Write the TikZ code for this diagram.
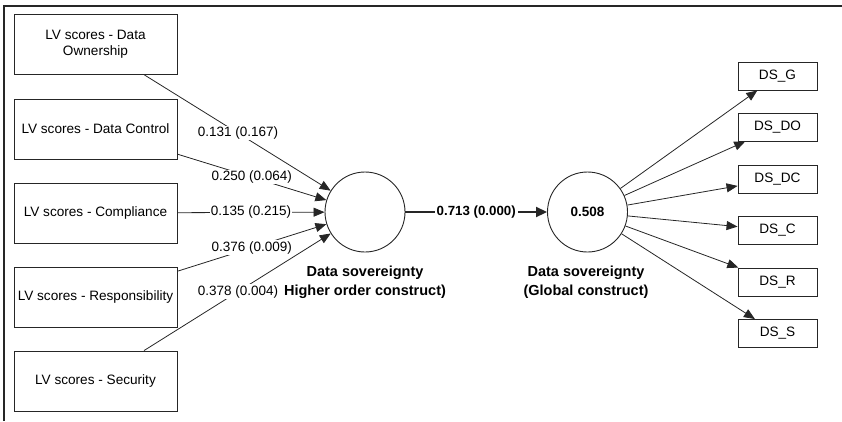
\documentclass[tikz,border=0pt]{standalone}
\usepackage{fontspec}
\setmainfont{Liberation Sans}
\usetikzlibrary{arrows.meta,calc}
\begin{document}
\begin{tikzpicture}[x=1pt,y=-1pt,
  lvbox/.style={draw=black!85,line width=0.9pt,minimum width=163pt,minimum height=60pt,inner sep=1pt,align=center,font=\fontsize{13.6}{16}\selectfont},
  dsbox/.style={draw=black!85,line width=0.9pt,minimum width=79pt,minimum height=28pt,inner sep=1pt,font=\fontsize{13.6}{16}\selectfont},
  construct/.style={draw=black!85,line width=0.9pt,circle,minimum size=80pt,inner sep=0pt},
  arr/.style={draw=black!85,line width=0.8pt,-{Triangle[length=11pt,width=9pt]}},
  elabel/.style={fill=white,inner sep=1pt,font=\fontsize{13.5}{15}\selectfont},
  cname/.style={align=center,font=\bfseries\fontsize{14.5}{19}\selectfont}
]
\useasboundingbox (0,0) rectangle (842,421);
\draw[line width=1.6pt,black!85] (4,421) -- (4,6) -- (842,6);

\node[lvbox] (b1) at (95.5,44.5) {LV scores - Data\\Ownership};
\node[lvbox] (b2) at (95.5,129) {LV scores - Data Control};
\node[lvbox] (b3) at (95.5,213) {LV scores - Compliance};
\node[lvbox] (b4) at (95.5,297) {LV scores - Responsibility};
\node[lvbox] (b5) at (95.5,381) {LV scores - Security};

\node[construct] (c1) at (365,212) {};
\node[construct,font=\bfseries\fontsize{13.5}{15}\selectfont] (c2) at (587.5,212) {0.508};

\node[cname] (n1) at (365,282.5) {Data sovereignty\\Higher order construct)};
\node[cname] (n2) at (586,282.5) {Data sovereignty\\(Global construct)};

\node[dsbox] (d1) at (777.5,76) {DS\_G};
\node[dsbox] (d2) at (777.5,127) {DS\_DO};
\node[dsbox] (d3) at (777.5,179) {DS\_DC};
\node[dsbox] (d4) at (777.5,230.5) {DS\_C};
\node[dsbox] (d5) at (777.5,282) {DS\_R};
\node[dsbox] (d6) at (777.5,333.5) {DS\_S};

\foreach \i in {1,...,5} {\draw[arr] (b\i) -- (c1);}
\node[elabel] (l1) at ($(b1.center)!0.529!(c1.center)$) {0.131 (0.167)};
\node[elabel] (l2) at ($(b2.center)!0.58!(c1.center)$) {0.250 (0.064)};
\node[elabel] (l3) at ($(b3.center)!0.577!(c1.center)$) {0.135 (0.215)};
\node[elabel] (l4) at ($(b4.center)!0.58!(c1.center)$) {0.376 (0.009)};
\node[elabel] (l5) at ($(b5.center)!0.529!(c1.center)$) {0.378 (0.004)};

\draw[draw=black!85,line width=1.8pt,-{Triangle[length=11pt,width=10pt]}] (c1) -- (c2)
  node[midway,fill=white,inner sep=2pt,font=\bfseries\fontsize{13.3}{15}\selectfont] (lm) {0.713 (0.000)};

\foreach \i in {1,...,6} {\draw[arr] (c2) -- (d\i);}
\end{tikzpicture}
\end{document}
